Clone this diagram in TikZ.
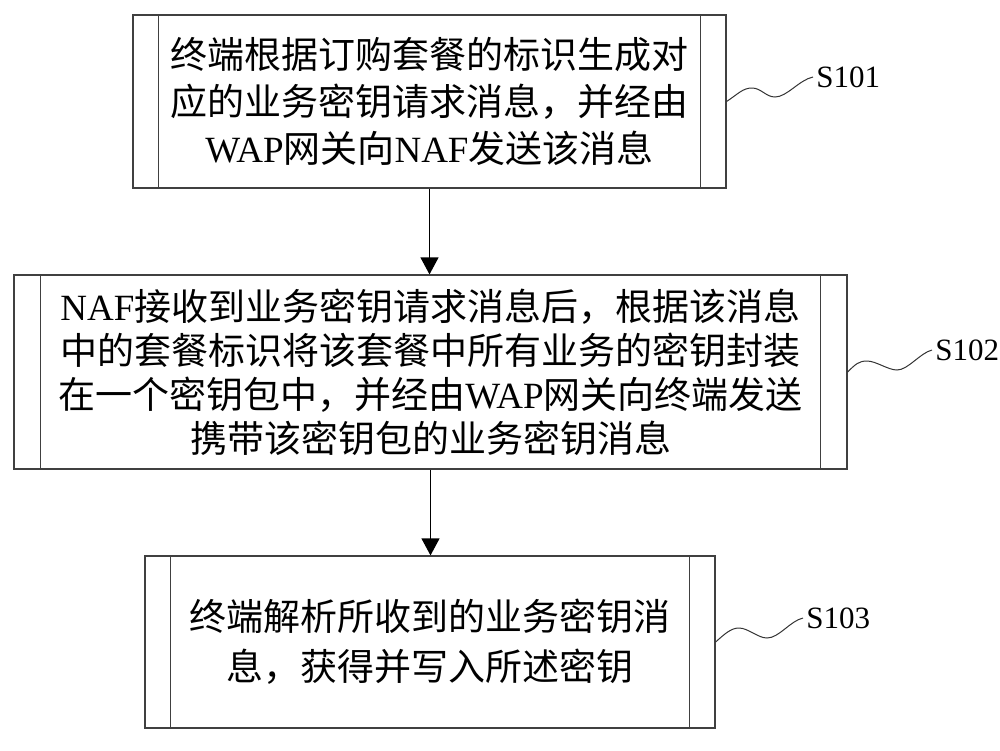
\documentclass[tikz,border=0pt]{standalone}
\usepackage{fontspec}
\setmainfont{Liberation Serif}
\newfontfamily\cjk{Noto Sans CJK SC}
\newcommand\latn[1]{{\rmfamily #1}}
\usetikzlibrary{arrows.meta,calc}
\tikzset{
  procbox/.style={draw=black!75, line width=0.6pt, rectangle, inner sep=0pt, align=center},
  boxfont/.style={font=\cjk\fontsize{18.5}{#1}\selectfont},
  sideline/.style={draw=black!75, line width=0.6pt},
  flow/.style={draw=black, line width=0.6pt, -{Triangle[length=8.5pt,width=9pt]}},
  wave/.style={draw=black!80, line width=0.5pt},
  steplabel/.style={anchor=west, inner sep=1.5pt, font=\fontsize{15.5}{18}\selectfont},
}
\begin{document}
\begin{tikzpicture}[x=0.5pt,y=-0.5pt]
\useasboundingbox (0,0) rectangle (1000,750);

% boxes
\node[procbox, boxfont=23.5pt, minimum width=296.5pt, minimum height=86.5pt] (b1) at (429.5,101.5)
  {终端根据订购套餐的标识生成对\\应的业务密钥请求消息，并经由\\\latn{WAP}网关向\latn{NAF}发送该消息};
\node[procbox, boxfont=22pt, minimum width=416.5pt, minimum height=97pt] (b2) at (430.5,372)
  {\latn{NAF}接收到业务密钥请求消息后，根据该消息\\中的套餐标识将该套餐中所有业务的密钥封装\\在一个密钥包中，并经由\latn{WAP}网关向终端发送\\携带该密钥包的业务密钥消息};
\node[procbox, boxfont=25pt, minimum width=285pt, minimum height=86pt] (b3) at (430,642)
  {终端解析所收到的业务密钥消\\息，获得并写入所述密钥};

% inner side lines
\foreach \b/\o in {b1/26,b2/27,b3/26}{
  \draw[sideline] ($(\b.north west)+(\o,0)$) -- ($(\b.south west)+(\o,0)$);
  \draw[sideline] ($(\b.north east)+(-\o,0)$) -- ($(\b.south east)+(-\o,0)$);
}

% flow arrows
\draw[flow] (b1.south) -- (b1.south |- b2.north);
\draw[flow] (b2.south) -- (b2.south |- b3.north);

% step labels
\node[steplabel] (l1) at (813,77) {S101};
\node[steplabel] (l2) at (932,350) {S102};
\node[steplabel] (l3) at (803,618) {S103};

\coordinate (p1) at (752,88);  \coordinate (t1) at (775,97);
\coordinate (p2) at (867,361); \coordinate (t2) at (897,370);
\coordinate (p3) at (739,628); \coordinate (t3) at (767,638);

\draw[wave] (b1.east) .. controls +(12,-8) and +(-9,0) .. (p1)
  .. controls +(9,0) and +(-9,0) .. (t1)
  .. controls +(12,0) and +(-14,3) .. (l1.west);
\draw[wave] (b2.east) .. controls +(8,-8) and +(-8,0) .. (p2)
  .. controls +(9,0) and +(-9,0) .. (t2)
  .. controls +(11,0) and +(-12,3) .. (l2.west);
\draw[wave] (b3.east) .. controls +(9,-8) and +(-8,0) .. (p3)
  .. controls +(9,0) and +(-9,0) .. (t3)
  .. controls +(12,0) and +(-13,3) .. (l3.west);
\end{tikzpicture}
\end{document}
